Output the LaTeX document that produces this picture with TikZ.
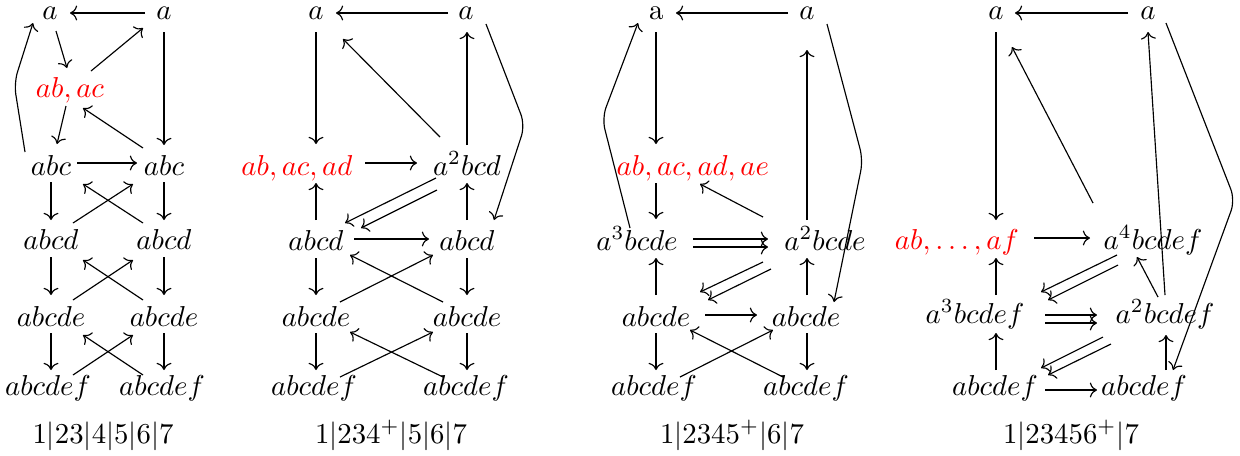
\documentclass[tikz,border=0pt]{standalone}
\usetikzlibrary{arrows.meta}
\begin{document}
\begin{tikzpicture}[x=0.3472pt,y=-0.3472pt,
  lbl/.style={anchor=base,inner sep=0pt},
  rd/.style={lbl,text=red},
  ar/.style={-{Computer Modern Rightarrow},line width=0.4pt},
  cv/.style={ar,rounded corners=4pt}]
\useasboundingbox (0,0) rectangle (1240,455);
% ---------------- panel 1
\node[lbl] (A1) at (50,19) {$a$};
\node[lbl] (B1) at (164,19) {$a$};
\node[rd] (R1) at (70,97) {$ab,ac$};
\node[lbl] (C1) at (51,175) {$abc$};
\node[lbl] (D1) at (164,175) {$abc$};
\node[lbl] (E1) at (51,249) {$abcd$};
\node[lbl] (F1) at (164,249) {$abcd$};
\node[lbl] (G1) at (51,326) {$abcde$};
\node[lbl] (H1) at (164,326) {$abcde$};
\node[lbl] (I1) at (48,395) {$abcdef$};
\node[lbl] (J1) at (162,395) {$abcdef$};
\node[lbl] (L1) at (103,443) {$1|23|4|5|6|7$};
\coordinate (k1) at (14,83);
\draw[ar] ([shift={(-19,-6)}]B1.base) -- ([shift={(20,-6)}]A1.base);
\draw[ar] ([shift={(6,12)}]A1.base) -- ([shift={(-3,-29)}]R1.base);
\draw[ar] ([shift={(21,-26)}]R1.base) -- ([shift={(-21,9)}]B1.base);
\draw[ar] ([shift={(0,13)}]B1.base) -- ([shift={(0,-30)}]D1.base);
\draw[ar] ([shift={(-21,-27)}]D1.base) -- ([shift={(13,11)}]R1.base);
\draw[ar] ([shift={(-4,9)}]R1.base) -- ([shift={(6,-31)}]C1.base);
\draw[cv] ([shift={(-26,-23)}]C1.base) -- (k1) -- ([shift={(-17,4)}]A1.base);
\draw[ar] ([shift={(26,-12)}]C1.base) -- ([shift={(-27,-12)}]D1.base);
\draw[ar] ([shift={(0,7)}]C1.base) -- ([shift={(0,-29)}]E1.base);
\draw[ar] ([shift={(0,7)}]D1.base) -- ([shift={(0,-29)}]F1.base);
\draw[ar] ([shift={(22,-26)}]E1.base) -- ([shift={(-31,9)}]D1.base);
\draw[ar] ([shift={(-21,-26)}]F1.base) -- ([shift={(32,9)}]C1.base);
\draw[ar] ([shift={(0,8)}]E1.base) -- ([shift={(0,-31)}]G1.base);
\draw[ar] ([shift={(0,8)}]F1.base) -- ([shift={(0,-31)}]H1.base);
\draw[ar] ([shift={(22,-26)}]G1.base) -- ([shift={(-31,11)}]F1.base);
\draw[ar] ([shift={(-21,-26)}]H1.base) -- ([shift={(32,11)}]E1.base);
\draw[ar] ([shift={(0,7)}]G1.base) -- ([shift={(3,-25)}]I1.base);
\draw[ar] ([shift={(0,7)}]H1.base) -- ([shift={(2,-25)}]J1.base);
\draw[ar] ([shift={(25,-20)}]I1.base) -- ([shift={(-31,9)}]H1.base);
\draw[ar] ([shift={(-19,-20)}]J1.base) -- ([shift={(32,9)}]G1.base);
% ---------------- panel 2
\node[lbl] (A2) at (316,19) {$a$};
\node[lbl] (B2) at (466,19) {$a$};
\node[rd] (R2) at (297,175) {$ab,ac,ad$};
\node[lbl] (S2) at (467,175) {$a^2bcd$};
\node[lbl] (E2) at (316,250) {$abcd$};
\node[lbl] (F2) at (467,250) {$abcd$};
\node[lbl] (G2) at (316,326) {$abcde$};
\node[lbl] (H2) at (467,326) {$abcde$};
\node[lbl] (I2) at (314,395) {$abcdef$};
\node[lbl] (J2) at (466,395) {$abcdef$};
\node[lbl] (L2) at (391,443) {$1|234^{+}|5|6|7$};
\coordinate (k2) at (525,125);
\draw[ar] ([shift={(-18,-6)}]B2.base) -- ([shift={(20,-6)}]A2.base);
\draw[ar] ([shift={(0,13)}]A2.base) -- ([shift={(19,-31)}]R2.base);
\draw[ar] ([shift={(-27,-38)}]S2.base) -- ([shift={(27,20)}]A2.base);
\draw[ar] ([shift={(0,-30)}]S2.base) -- ([shift={(1,13)}]B2.base);
\draw[cv] ([shift={(20,5)}]B2.base) -- (k2) -- ([shift={(27,-30)}]F2.base);
\draw[ar] ([shift={(68,-12)}]R2.base) -- ([shift={(-50,-12)}]S2.base);
\draw[ar] ([shift={(-31,3)}]S2.base) -- ([shift={(29,-27)}]E2.base);
\draw[ar] ([shift={(-30,15)}]S2.base) -- ([shift={(45,-22)}]E2.base);
\draw[ar] ([shift={(0,-30)}]E2.base) -- ([shift={(19,8)}]R2.base);
\draw[ar] ([shift={(0,-30)}]F2.base) -- ([shift={(0,8)}]S2.base);
\draw[ar] ([shift={(38,-11)}]E2.base) -- ([shift={(-38,-11)}]F2.base);
\draw[ar] ([shift={(0,8)}]E2.base) -- ([shift={(0,-31)}]G2.base);
\draw[ar] ([shift={(0,8)}]F2.base) -- ([shift={(0,-31)}]H2.base);
\draw[ar] ([shift={(24,-24)}]G2.base) -- ([shift={(-34,5)}]F2.base);
\draw[ar] ([shift={(-24,-24)}]H2.base) -- ([shift={(34,5)}]E2.base);
\draw[ar] ([shift={(0,7)}]G2.base) -- ([shift={(2,-25)}]I2.base);
\draw[ar] ([shift={(0,7)}]H2.base) -- ([shift={(1,-25)}]J2.base);
\draw[ar] ([shift={(26,-18)}]I2.base) -- ([shift={(-34,6)}]H2.base);
\draw[ar] ([shift={(-23,-18)}]J2.base) -- ([shift={(34,6)}]G2.base);
% ---------------- panel 3
\node[lbl] (A3) at (656,19) {$\mathrm{a}$};
\node[lbl] (B3) at (807,19) {$a$};
\node[rd] (R3) at (693,175) {$ab,ac,ad,ae$};
\node[lbl] (T3) at (637,250) {$a^3bcde$};
\node[lbl] (S3) at (825,250) {$a^2bcde$};
\node[lbl] (G3) at (656,326) {$abcde$};
\node[lbl] (H3) at (806,326) {$abcde$};
\node[lbl] (I3) at (654,395) {$abcdef$};
\node[lbl] (J3) at (806,395) {$abcdef$};
\node[lbl] (L3) at (732,443) {$1|2345^{+}|6|7$};
\coordinate (k3) at (602,118);
\coordinate (m3) at (863,160);
\draw[ar] ([shift={(-19,-6)}]B3.base) -- ([shift={(20,-6)}]A3.base);
\draw[ar] ([shift={(0,13)}]A3.base) -- ([shift={(-37,-31)}]R3.base);
\draw[cv] ([shift={(-7,-22)}]T3.base) -- (k3) -- ([shift={(-18,4)}]A3.base);
\draw[ar] ([shift={(-18,-30)}]S3.base) -- ([shift={(0,31)}]B3.base);
\draw[cv] ([shift={(20,5)}]B3.base) -- (m3) -- ([shift={(28,-24)}]H3.base);
\draw[ar] ([shift={(-62,-33)}]S3.base) -- ([shift={(7,9)}]R3.base);
\draw[ar] ([shift={(-37,8)}]R3.base) -- ([shift={(19,-31)}]T3.base);
\draw[ar] ([shift={(56,-11)}]T3.base) -- ([shift={(-57,-11)}]S3.base);
\draw[ar] ([shift={(56,-3)}]T3.base) -- ([shift={(-57,-3)}]S3.base);
\draw[ar] ([shift={(-62,12)}]S3.base) -- ([shift={(44,-34)}]G3.base);
\draw[ar] ([shift={(-54,19)}]S3.base) -- ([shift={(52,-26)}]G3.base);
\draw[ar] ([shift={(0,-31)}]G3.base) -- ([shift={(19,8)}]T3.base);
\draw[ar] ([shift={(1,-31)}]H3.base) -- ([shift={(-18,8)}]S3.base);
\draw[ar] ([shift={(49,-11)}]G3.base) -- ([shift={(-49,-11)}]H3.base);
\draw[ar] ([shift={(0,7)}]G3.base) -- ([shift={(2,-25)}]I3.base);
\draw[ar] ([shift={(1,7)}]H3.base) -- ([shift={(1,-25)}]J3.base);
\draw[ar] ([shift={(26,-18)}]I3.base) -- ([shift={(-33,4)}]H3.base);
\draw[ar] ([shift={(-23,-18)}]J3.base) -- ([shift={(34,4)}]G3.base);
% ---------------- panel 4
\node[lbl] (A4) at (996,19) {$a$};
\node[lbl] (B4) at (1148,19) {$a$};
\node[rd] (R4) at (957,249) {$ab,\ldots,af$};
\node[lbl] (Q4) at (1153,249) {$a^4bcdef$};
\node[lbl] (T4) at (975,323) {$a^3bcdef$};
\node[lbl] (S4) at (1165,323) {$a^2bcdef$};
\node[lbl] (I4) at (995,395) {$abcdef$};
\node[lbl] (J4) at (1144,395) {$abcdef$};
\node[lbl] (L4) at (1071,443) {$1|23456^{+}|7$};
\coordinate (k4) at (1235,200);
\draw[ar] ([shift={(-20,-6)}]B4.base) -- ([shift={(19,-6)}]A4.base);
\draw[ar] ([shift={(0,13)}]A4.base) -- ([shift={(39,-29)}]R4.base);
\draw[ar] ([shift={(-72,-120)}]S4.base) -- ([shift={(16,28)}]A4.base);
\draw[ar] ([shift={(0,-28)}]S4.base) -- ([shift={(0,13)}]B4.base);
\draw[cv] ([shift={(18,4)}]B4.base) -- (k4) -- ([shift={(29,-25)}]J4.base);
\draw[ar] ([shift={(77,-11)}]R4.base) -- ([shift={(-63,-11)}]Q4.base);
\draw[ar] ([shift={(-36,6)}]Q4.base) -- ([shift={(66,-31)}]T4.base);
\draw[ar] ([shift={(-35,16)}]Q4.base) -- ([shift={(73,-23)}]T4.base);
\draw[ar] ([shift={(-7,-26)}]S4.base) -- ([shift={(-16,8)}]Q4.base);
\draw[ar] ([shift={(21,-28)}]T4.base) -- ([shift={(39,9)}]R4.base);
\draw[ar] ([shift={(70,-8)}]T4.base) -- ([shift={(-68,-8)}]S4.base);
\draw[ar] ([shift={(70,0)}]T4.base) -- ([shift={(-68,0)}]S4.base);
\draw[ar] ([shift={(-62,14)}]S4.base) -- ([shift={(46,-27)}]I4.base);
\draw[ar] ([shift={(-54,21)}]S4.base) -- ([shift={(53,-20)}]I4.base);
\draw[ar] ([shift={(1,-25)}]I4.base) -- ([shift={(21,10)}]T4.base);
\draw[ar] ([shift={(22,-25)}]J4.base) -- ([shift={(1,12)}]S4.base);
\draw[ar] ([shift={(50,-5)}]I4.base) -- ([shift={(-47,-5)}]J4.base);
\end{tikzpicture}
\end{document}
